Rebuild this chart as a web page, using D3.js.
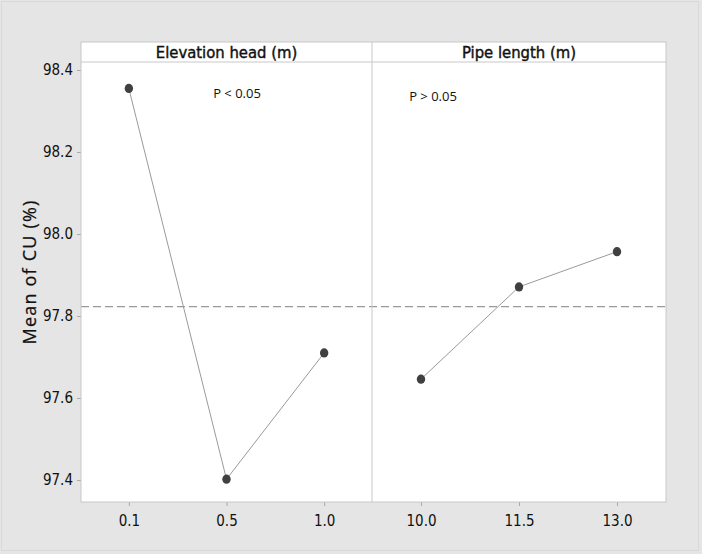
<!DOCTYPE html>
<html><head><meta charset="utf-8">
<script src="https://cdn.jsdelivr.net/npm/d3@7"></script>
<style>
body{margin:0;background:#e5e5e5;}
svg{display:block;}
.tick text{font-family:"DejaVu Sans",sans-serif;font-stretch:condensed;font-size:15px;fill:#111;}
</style></head>
<body>
<script>
const elevLevels = ["0.1", "0.5", "1.0"];
const elevMeans = [98.355, 97.402, 97.71];
const pipeLevels = ["10.0", "11.5", "13.0"];
const pipeMeans = [97.646, 97.871, 97.957];
const grandMean = 97.823;
const yTicks = [97.4, 97.6, 97.8, 98.0, 98.2, 98.4];
const panelTitles = ["Elevation head (m)", "Pipe length (m)"];
const pLabels = ["P < 0.05", "P > 0.05"];
const yTitle = "Mean of CU (%)";

const W = 702, H = 554;
const L = 81, R = 666, T = 42, HB = 62, B = 502, MID = 372;

const svg = d3.select("body").append("svg").attr("width", W).attr("height", H);
svg.append("rect").attr("x",0).attr("y",0).attr("width",W).attr("height",H).attr("fill","#e5e5e5");
svg.append("rect").attr("x",1.5).attr("y",1.5).attr("width",697).attr("height",549).attr("fill","none").attr("stroke","#d9d9d9");

const y = d3.scaleLinear().domain([97.4, 98.4]).range([480, 70]);
const panels = [
  {levels: elevLevels, means: elevMeans, x: d3.scalePoint().domain(elevLevels).range([L, MID]).padding(0.49), title: panelTitles[0], p: pLabels[0], x0: L, x1: MID, px: 237, py: 98},
  {levels: pipeLevels, means: pipeMeans, x: d3.scalePoint().domain(pipeLevels).range([MID, R]).padding(0.5), title: panelTitles[1], p: pLabels[1], x0: MID, x1: R, px: 433, py: 101}
];

svg.append("rect").attr("x", L).attr("y", T).attr("width", R - L).attr("height", B - T).attr("fill", "#fff");

const ya = svg.append("g").attr("transform", `translate(${L},0)`)
  .call(d3.axisLeft(y).tickValues(yTicks).tickFormat(d3.format(".1f")).tickSize(4).tickPadding(4));
ya.select(".domain").remove();
ya.selectAll(".tick line").attr("stroke", "#aaa");

panels.forEach(p => {
  const xa = svg.append("g").attr("transform", `translate(0,${B})`)
    .call(d3.axisBottom(p.x).tickSize(4).tickPadding(9));
  xa.select(".domain").remove();
  xa.selectAll(".tick line").attr("stroke", "#aaa");
});

svg.append("line").attr("x1", L).attr("x2", R).attr("y1", y(grandMean)).attr("y2", y(grandMean))
  .attr("stroke", "#999").attr("stroke-width", 1.2).attr("stroke-dasharray", "8,4");

svg.append("line").attr("x1", L).attr("x2", R).attr("y1", HB).attr("y2", HB).attr("stroke", "#c8c8c8");
svg.append("line").attr("x1", MID).attr("x2", MID).attr("y1", T).attr("y2", B).attr("stroke", "#c8c8c8");
svg.append("rect").attr("x", L).attr("y", T).attr("width", R - L).attr("height", B - T).attr("fill", "none").attr("stroke", "#c8c8c8");

panels.forEach(p => {
  svg.append("text").attr("x", (p.x0 + p.x1) / 2).attr("y", 58).attr("text-anchor", "middle")
    .attr("font-family", "'DejaVu Sans',sans-serif").attr("font-stretch", "condensed")
    .attr("font-size", 16.5).attr("fill", "#111").attr("stroke", "#111").attr("stroke-width", 0.4).text(p.title);
  svg.append("text").attr("x", p.px).attr("y", p.py).attr("text-anchor", "middle")
    .attr("font-family", "'Open Sans',sans-serif").attr("font-size", 13).attr("fill", "#111").text(p.p);
  const pts = p.levels.map((l, i) => [p.x(l), y(p.means[i])]);
  svg.append("path").attr("d", d3.line()(pts)).attr("fill", "none").attr("stroke", "#9a9a9a").attr("stroke-width", 1);
  svg.selectAll(null).data(pts).enter().append("ellipse")
    .attr("cx", d => d[0]).attr("cy", d => d[1]).attr("rx", 4.2).attr("ry", 4.6).attr("fill", "#404040");
});

svg.append("text").attr("transform", "translate(36,272) rotate(-90)").attr("text-anchor", "middle")
  .attr("font-family", "'Open Sans',sans-serif").attr("font-size", 18).attr("letter-spacing", 1.2)
  .attr("fill", "#111").attr("stroke", "#111").attr("stroke-width", 0.25).text(yTitle);
</script>
</body></html>
